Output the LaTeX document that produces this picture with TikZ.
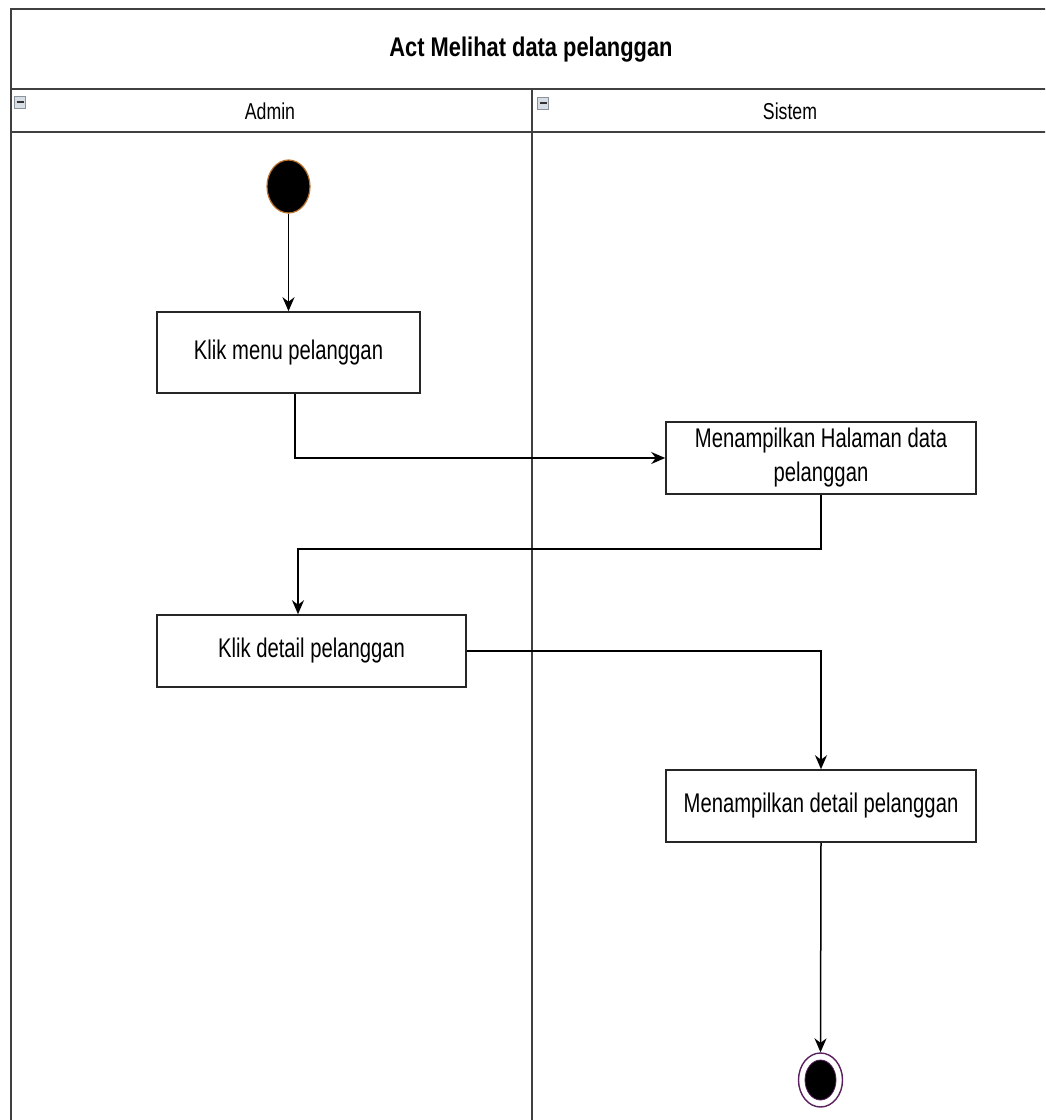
\documentclass[tikz,border=0pt]{standalone}
\usepackage{fontspec}
\setmainfont{Liberation Sans}
\newfontfamily\boxfont[FakeStretch=0.75]{Liberation Sans}
\newfontfamily\titlefont[FakeStretch=0.81]{Liberation Sans}
\newfontfamily\lanefont[FakeStretch=0.77]{Liberation Sans}
\usetikzlibrary{shapes.geometric,arrows.meta}
\definecolor{frameln}{HTML}{404040}
\definecolor{startln}{HTML}{B8702A}
\definecolor{endln}{HTML}{5A2060}
\definecolor{iconfill}{HTML}{D8DEE6}
\definecolor{iconln}{HTML}{8A929C}
\tikzset{
  frame/.style={draw=frameln,line width=2.2pt},
  actbox/.style={draw=black!85,line width=1.6pt,fill=white,rectangle,
    font=\boxfont\fontsize{27}{34}\selectfont,align=center,inner sep=0pt},
  arr/.style={draw=black,line width=1.5pt,-{Stealth[length=14pt,width=12pt]}},
  lanelabel/.style={font=\lanefont\fontsize{23}{26}\selectfont,inner sep=0pt},
  icon/.style={draw=iconln,fill=iconfill,line width=1pt,rectangle,
    minimum width=11pt,minimum height=12pt,inner sep=0pt}
}
\begin{document}
\begin{tikzpicture}[x=1pt,y=-1pt]
\useasboundingbox (0,0) rectangle (1045,1120);
\fill[white] (0,0) rectangle (1045,1120);
\begin{scope}
\clip (0,0) rectangle (1045,1120);
% frame
\draw[frame] (11,1130) -- (11,9) -- (1050,9) -- (1050,1130);
\draw[frame] (11,89) -- (1050,89);
\draw[frame] (11,132) -- (1050,132);
\draw[frame] (532,89) -- (532,1130);
\end{scope}
% title and lane headers
\node[font=\titlefont\bfseries\fontsize{27}{30}\selectfont,inner sep=0pt] (title) at (531,50) {Act Melihat data pelanggan};
\node[lanelabel] (admin) at (270,111) {Admin};
\node[lanelabel] (sistem) at (790,111) {Sistem};
\node[icon] (icon1) at (20,102) {};
\draw[black!80,line width=1.6pt] ([xshift=-3.5pt]icon1.center) -- ([xshift=3.5pt]icon1.center);
\node[icon] (icon2) at (543,103) {};
\draw[black!80,line width=1.6pt] ([xshift=-3.5pt]icon2.center) -- ([xshift=3.5pt]icon2.center);
% start
\node[ellipse,fill=black,draw=startln,line width=1.2pt,minimum width=43pt,minimum height=53pt,inner sep=0pt] (start) at (288.5,186.5) {};
% activities
\node[actbox,minimum width=263pt,minimum height=81pt] (box1) at (288.5,352.5) {Klik menu pelanggan};
\node[actbox,minimum width=310pt,minimum height=72pt] (box2) at (821,458) {Menampilkan Halaman data\\pelanggan};
\node[actbox,minimum width=309pt,minimum height=72pt] (box3) at (311.5,651) {Klik detail pelanggan};
\node[actbox,minimum width=310pt,minimum height=72pt] (box4) at (821,806) {Menampilkan detail pelanggan};
% end
\node[ellipse,draw=endln,line width=1.4pt,fill=white,minimum width=44pt,minimum height=54pt,inner sep=0pt] (end) at (820.5,1080) {};
\node[ellipse,fill=black,draw=endln,line width=0.8pt,minimum width=31pt,minimum height=40pt,inner sep=0pt] (endin) at (end.center) {};
% connectors
\draw[arr] (start.south) -- (box1.north);
\draw[arr] ([xshift=6.5pt]box1.south) |- (box2.west);
\draw[arr] (box2.south) -- ++(0,54) -| ([xshift=-13.5pt]box3.north);
\draw[arr] (box3.east) -| (box4.north);
\draw[arr] (box4.south) -- (end.north);
\end{tikzpicture}
\end{document}
